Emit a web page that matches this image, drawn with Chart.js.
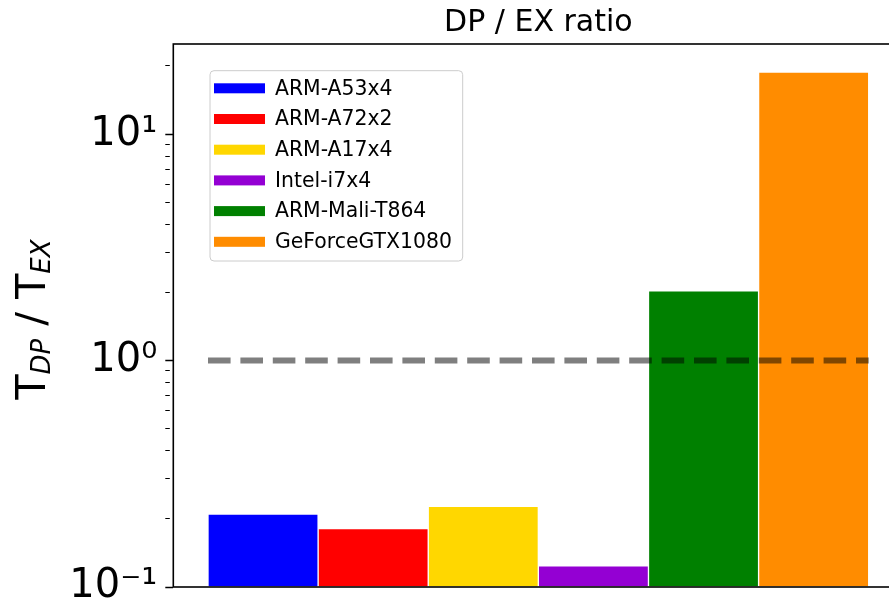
<!DOCTYPE html>
<html>
<head>
<meta charset="utf-8">
<script src="https://cdn.jsdelivr.net/npm/chart.js@4.4.1/dist/chart.umd.min.js"></script>
<style>
  html, body { margin: 0; padding: 0; background: #ffffff; overflow: hidden; width: 889px; height: 607px; }
  #wrap { width: 889px; height: 607px; overflow: hidden; position: relative; }
  canvas { display: block; }
</style>
</head>
<body>
<div id="wrap"><canvas id="c" width="940" height="607"></canvas></div>
<script>
// ---- data ----
const categories = ['ARM-A53x4', 'ARM-A72x2', 'ARM-A17x4', 'Intel-i7x4', 'ARM-Mali-T864', 'GeForceGTX1080'];
const ratios = [0.210, 0.181, 0.227, 0.124, 2.03, 18.8];
const barColors = ['#0000ff', '#ff0000', '#ffd700', '#9400d3', '#008000', '#ff8c00'];
const referenceLevel = 1;
const majorTicks = [0.1, 1, 10];
const majorTickLabels = ['10\u207B\u00B9', '10\u2070', '10\u00B9'];
const minorTicks = [0.2, 0.3, 0.4, 0.5, 0.6, 0.7, 0.8, 0.9, 2, 3, 4, 5, 6, 7, 8, 9, 20];
const titleText = 'DP / EX ratio';

const FONT = "'DejaVu Sans', sans-serif";

const barDatasets = categories.map((name, i) => ({
  type: 'bar',
  label: name,
  data: [{ x: i, y: ratios[i] }],
  backgroundColor: barColors[i],
  borderColor: '#ffffff',
  borderWidth: 1,
  borderSkipped: false,
  grouped: false,
  barPercentage: 1,
  categoryPercentage: 1,
  order: 1
}));

const refLine = {
  type: 'line',
  label: 'reference',
  data: [{ x: -0.5, y: referenceLevel }, { x: categories.length - 0.5, y: referenceLevel }],
  borderColor: 'rgba(0,0,0,0.5)',
  borderWidth: 6,
  borderDash: [22.6, 9.8],
  borderCapStyle: 'butt',
  pointRadius: 0,
  fill: false,
  order: 0
};

const spinesPlugin = {
  id: 'spines',
  afterDatasetsDraw(chart) {
    const { ctx, chartArea: a } = chart;
    ctx.save();
    ctx.strokeStyle = '#000000';
    ctx.lineWidth = 1.6;
    ctx.strokeRect(a.left, a.top, a.right - a.left, a.bottom - a.top);
    ctx.restore();
  }
};

const legendPlugin = {
  id: 'boxLegend',
  afterDraw(chart) {
    const { ctx, chartArea: a } = chart;
    const x0 = a.left + 36.7, y0 = a.top + 26.7, w = 252.7, h = 190.3, r = 4;
    ctx.save();
    ctx.beginPath();
    ctx.moveTo(x0 + r, y0);
    ctx.lineTo(x0 + w - r, y0);
    ctx.arcTo(x0 + w, y0, x0 + w, y0 + r, r);
    ctx.lineTo(x0 + w, y0 + h - r);
    ctx.arcTo(x0 + w, y0 + h, x0 + w - r, y0 + h, r);
    ctx.lineTo(x0 + r, y0 + h);
    ctx.arcTo(x0, y0 + h, x0, y0 + h - r, r);
    ctx.lineTo(x0, y0 + r);
    ctx.arcTo(x0, y0, x0 + r, y0, r);
    ctx.closePath();
    ctx.fillStyle = 'rgba(255,255,255,0.8)';
    ctx.fill();
    ctx.strokeStyle = '#cccccc';
    ctx.lineWidth = 1;
    ctx.stroke();
    const dsList = chart.data.datasets.filter(d => d.type === 'bar');
    ctx.font = '20.4px ' + FONT;
    ctx.textBaseline = 'middle';
    ctx.textAlign = 'left';
    dsList.forEach((ds, i) => {
      const cy = y0 + 17.6 + i * 30.7;
      ctx.fillStyle = ds.backgroundColor;
      ctx.fillRect(x0 + 4, cy - 5, 51, 10);
      ctx.fillStyle = '#000000';
      ctx.fillText(ds.label, x0 + 65, cy + 1);
    });
    ctx.restore();
  }
};

const yLabelPlugin = {
  id: 'yLabel',
  afterDraw(chart) {
    const { ctx, chartArea: a } = chart;
    const cy = (a.top + a.bottom) / 2 + 4;
    const main = '41px ' + FONT;
    const sub = 'italic 26px ' + FONT;
    const parts = [
      { t: 'T', f: main, dy: 0 },
      { t: 'DP', f: sub, dy: 5 },
      { t: ' / T', f: main, dy: 0 },
      { t: 'EX', f: sub, dy: 5 }
    ];
    ctx.save();
    ctx.translate(45, cy);
    ctx.rotate(-Math.PI / 2);
    ctx.textBaseline = 'alphabetic';
    ctx.textAlign = 'left';
    ctx.fillStyle = '#000000';
    let total = 0;
    parts.forEach(p => { ctx.font = p.f; p.w = ctx.measureText(p.t).width; total += p.w; });
    let x = -total / 2;
    parts.forEach(p => { ctx.font = p.f; ctx.fillText(p.t, x, p.dy); x += p.w; });
    ctx.restore();
  }
};

new Chart(document.getElementById('c'), {
  data: { datasets: [...barDatasets, refLine] },
  options: {
    responsive: false,
    animation: false,
    devicePixelRatio: 1,
    layout: { padding: { left: 0, right: 36.6, top: 0, bottom: 20 } },
    datasets: { bar: { barPercentage: 1, categoryPercentage: 1, grouped: false } },
    plugins: {
      legend: { display: false },
      tooltip: { enabled: false },
      title: {
        display: true,
        text: titleText,
        fullSize: false,
        color: '#000000',
        font: { family: FONT, size: 30, weight: 'normal', lineHeight: 1.2 },
        padding: { top: 5, bottom: 3 }
      }
    },
    scales: {
      x: {
        type: 'linear',
        display: false,
        min: -0.815,
        max: 5.815,
        offset: false,
        afterBuildTicks(scale) {
          scale.ticks = categories.map((c, i) => ({ value: i }));
        }
      },
      y: {
        type: 'logarithmic',
        position: 'left',
        min: 0.1,
        max: 25,
        afterFit(scale) {
          scale.width = 173.3;
          scale.paddingTop = 0;
          scale.paddingBottom = 0;
        },
        afterBuildTicks(scale) {
          scale.ticks = [...majorTicks, ...minorTicks].sort((p, q) => p - q)
            .map(v => ({ value: v, major: majorTicks.includes(v) }));
        },
        border: { display: false },
        grid: {
          drawOnChartArea: false,
          drawTicks: true,
          tickLength: 8,
          color: '#000000',
          tickColor: '#000000',
          tickWidth: (c) => (c.tick && c.tick.major) ? 1.5 : 1,
          tickBorderDash: (c) => (c.tick && c.tick.major) ? [] : [4.5, 30]
        },
        ticks: {
          autoSkip: false,
          padding: 8,
          color: '#000000',
          font: { family: FONT, size: 40 },
          callback(value) {
            const k = majorTicks.findIndex(m => Math.abs(m - value) < 1e-9);
            return k >= 0 ? majorTickLabels[k] : '';
          }
        }
      }
    }
  },
  plugins: [spinesPlugin, legendPlugin, yLabelPlugin]
});
</script>
</body>
</html>
